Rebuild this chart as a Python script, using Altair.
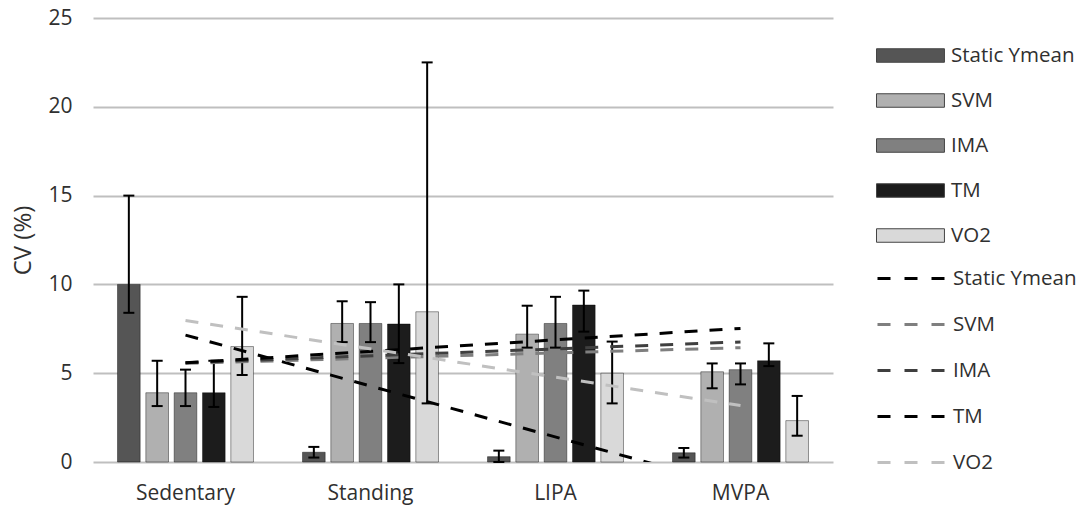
import altair as alt
import pandas as pd

# ---- data ----
categories = ["Sedentary", "Standing", "LIPA", "MVPA"]
series = ["Static Ymean", "SVM", "IMA", "TM", "VO2"]

values = {
    "Static Ymean": [10.0, 0.55, 0.30, 0.52],
    "SVM":          [3.9, 7.8, 7.2, 5.08],
    "IMA":          [3.9, 7.8, 7.8, 5.2],
    "TM":           [3.9, 7.77, 8.84, 5.7],
    "VO2":          [6.5, 8.46, 5.0, 2.33],
}
err_low = {
    "Static Ymean": [8.4, 0.25, 0.0, 0.25],
    "SVM":          [3.15, 6.75, 6.44, 4.15],
    "IMA":          [3.15, 6.75, 6.44, 4.37],
    "TM":           [3.1, 5.57, 7.34, 5.4],
    "VO2":          [4.9, 3.3, 3.3, 1.48],
}
err_high = {
    "Static Ymean": [15.0, 0.85, 0.64, 0.79],
    "SVM":          [5.7, 9.05, 8.8, 5.55],
    "IMA":          [5.2, 9.0, 9.3, 5.55],
    "TM":           [5.7, 10.0, 9.65, 6.68],
    "VO2":          [9.3, 22.5, 6.78, 3.72],
}
y_ticks = [0, 5, 10, 15, 20, 25]

bar_colors = ["#555555", "#b0b0b0", "#808080", "#1c1c1c", "#d9d9d9"]
line_colors = ["#000000", "#7f7f7f", "#3f3f3f", "#000000", "#c0c0c0"]

rows = []
for s in series:
    for i, c in enumerate(categories):
        rows.append({
            "category": c, "idx": i + 1, "series": s, "trend": s,
            "value": values[s][i], "low": err_low[s][i], "high": err_high[s][i],
        })
df = pd.DataFrame(rows)

FONT = "Open Sans"
TXT = "#303030"

base = alt.Chart(df)

X = alt.X("category:N", sort=categories,
          scale=alt.Scale(paddingInner=0.265, paddingOuter=0.1325),
          axis=alt.Axis(title=None, labelAngle=0, domain=False, ticks=False,
                        labelPadding=20, labelFontSize=21, labelFont=FONT,
                        labelColor=TXT))
XO = alt.XOffset("series:N", sort=series,
                 scale=alt.Scale(paddingInner=0.2, paddingOuter=0))
Y = alt.Y("value:Q", scale=alt.Scale(domain=[0, 25], nice=False),
          axis=alt.Axis(values=y_ticks, title="CV (%)", grid=True,
                        gridColor="#bfbfbf", gridWidth=2, domain=False,
                        ticks=False, labelPadding=21, labelFontSize=21,
                        labelFont=FONT, labelColor=TXT, titleFont=FONT,
                        titleFontSize=24, titleFontWeight="normal",
                        titleColor=TXT, titlePadding=12))

bars = base.mark_bar(stroke="#000000", strokeOpacity=0.4, strokeWidth=1).encode(
    x=X, xOffset=XO, y=Y,
    fill=alt.Fill("series:N", sort=series,
                  scale=alt.Scale(domain=series, range=bar_colors),
                  legend=alt.Legend(title=None, orient="none", legendX=783,
                                    legendY=22, padding=0,
                                    symbolType="M-1,-0.45H3.53V0.45H-1Z",
                                    symbolSize=900, symbolStrokeWidth=1,
                                    symbolStrokeColor="#444444",
                                    labelOffset=44, rowPadding=19,
                                    labelFontSize=20.5, labelFont=FONT,
                                    labelColor=TXT, symbolOpacity=1)),
)

err = base.mark_rule(color="black", strokeWidth=2).encode(
    x=X, xOffset=XO, y="low:Q", y2="high:Q")
cap_lo = base.mark_tick(color="black", thickness=2, size=11, opacity=1).encode(
    x=X, xOffset=XO, y="low:Q")
cap_hi = base.mark_tick(color="black", thickness=2, size=11, opacity=1).encode(
    x=X, xOffset=XO, y="high:Q")

bar_layer = alt.layer(bars, err, cap_lo, cap_hi)

trend = base.transform_regression(
    "idx", "value", groupby=["trend"], extent=[1, 4]
).mark_line(strokeDash=[13, 12], strokeWidth=3, clip=True).encode(
    x=alt.X("idx:Q", scale=alt.Scale(domain=[0.5, 4.5], nice=False, zero=False),
            axis=None),
    y=alt.Y("value:Q", scale=alt.Scale(domain=[0, 25], nice=False)),
    stroke=alt.Stroke("trend:N", sort=series,
                      scale=alt.Scale(range=line_colors),
                      legend=alt.Legend(title=None, orient="none", legendX=783,
                                        legendY=244, padding=0,
                                        symbolType="M-1,0H3.53",
                                        symbolSize=900, symbolStrokeWidth=3,
                                        symbolDash=[13, 14],
                                        labelOffset=44, rowPadding=19,
                                        labelFontSize=20.5, labelFont=FONT,
                                        labelColor=TXT)),
)

chart = alt.layer(bar_layer, trend).resolve_scale(
    x="independent"
).properties(
    width=740, height=444,
    autosize=alt.AutoSizeParams(type="none"),
    padding={"left": 93, "top": 18, "right": 246, "bottom": 46},
    background="white",
).configure_view(stroke=None)

chart.save("out.html", embed_options={"renderer": "svg", "actions": False})
